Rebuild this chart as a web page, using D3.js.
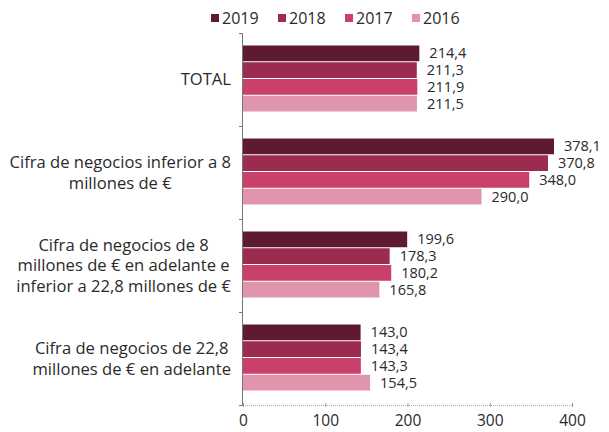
<!DOCTYPE html>
<html><head><meta charset="utf-8">
<script src="https://cdn.jsdelivr.net/npm/d3@7"></script>
<style>body{margin:0;background:#fff}svg{display:block}text{font-family:"Open Sans",Lato,sans-serif;fill:#2a2a2a}</style>
</head><body>
<svg id="c" width="609" height="432"></svg>
<script>
const categories = [
  ["TOTAL"],
  ["Cifra de negocios inferior a 8", "millones de €"],
  ["Cifra de negocios de 8", "millones de € en adelante e", "inferior a 22,8 millones de €"],
  ["Cifra de negocios de 22,8", "millones de € en adelante"]
];
const series = ["2019", "2018", "2017", "2016"];
const colors = ["#5e1a31", "#9b2b4f", "#c9406a", "#e195ad"];
const v2019 = [214.4, 378.1, 199.6, 143.0];
const v2018 = [211.3, 370.8, 178.3, 143.4];
const v2017 = [211.9, 348.0, 180.2, 143.3];
const v2016 = [211.5, 290.0, 165.8, 154.5];
const values = [v2019, v2018, v2017, v2016];
const xTicks = [0, 100, 200, 300, 400];

(function () {
const svg = d3.select("#c");
const mLeft = 243, mRight = 572, mTop = 33, mBottom = 405;
const x = d3.scaleLinear().domain([0, 400]).range([mLeft, mRight]);
const y0 = d3.scaleBand().domain(d3.range(categories.length)).range([mTop, mBottom]).paddingInner(0).paddingOuter(0);
const y1 = d3.scaleBand().domain(series).range([12, y0.bandwidth() - 14]).padding(0);
const fmt = v => v.toFixed(1).replace(".", ",");
const FS = 16.6;

categories.forEach((c, i) => {
  const g = svg.append("g").attr("transform", `translate(0,${y0(i)})`);
  series.forEach((s, j) => {
    const v = values[j][i];
    g.append("rect").attr("x", x(0)).attr("y", y1(s) + 0.5)
      .attr("width", x(v) - x(0)).attr("height", y1.bandwidth() - 1)
      .attr("fill", colors[j]);
    g.append("text").attr("x", x(v) + 10).attr("y", y1(s) + y1.bandwidth() / 2)
      .attr("dy", "0.35em").attr("font-size", 14.5).text(fmt(v));
  });
  const lh = 20.5;
  const n = c.length;
  const t = svg.append("text").attr("font-size", FS).attr("text-anchor", "middle");
  const tsp = c.map((line, k) => t.append("tspan").attr("x", 0)
    .attr("y", y0(i) + y0.bandwidth() / 2 + (k - (n - 1) / 2) * lh).attr("dy", "0.35em").text(line));
  let maxW = 0;
  tsp.forEach(s => { maxW = Math.max(maxW, s.node().getComputedTextLength()); });
  tsp.forEach(s => s.attr("x", 231 - maxW / 2));
});

svg.append("line").attr("x1", mLeft - 0.5).attr("x2", mLeft - 0.5).attr("y1", mTop).attr("y2", mBottom).attr("stroke", "#777");
d3.range(categories.length + 1).forEach(i => {
  const yy = i < categories.length ? y0(i) : mBottom;
  svg.append("line").attr("x1", mLeft - 4).attr("x2", mLeft).attr("y1", Math.round(yy) + 0.5).attr("y2", Math.round(yy) + 0.5).attr("stroke", "#777");
});

const xa = svg.append("g").attr("transform", `translate(0,${mBottom})`)
  .call(d3.axisBottom(x).tickValues(xTicks).tickSize(3).tickPadding(7));
xa.select(".domain").attr("stroke", "#aaa").attr("stroke-dasharray", "1,1").attr("d", `M${mLeft},0.5H${mRight}`);
xa.selectAll(".tick line").attr("stroke", "#999").attr("y1", -2).attr("y2", 2);
xa.selectAll(".tick text").attr("font-size", 15.5).attr("font-family", "'Open Sans',Lato,sans-serif").attr("fill", "#2a2a2a");

const lg = svg.append("g");
series.forEach((s, j) => {
  const lx = 211 + j * 67;
  lg.append("rect").attr("x", lx).attr("y", 14).attr("width", 8).attr("height", 8).attr("fill", colors[j]);
  lg.append("text").attr("x", lx + 11).attr("y", 18).attr("dy", "0.35em").attr("font-size", 16).text(s);
});
})();
</script>
</body></html>
